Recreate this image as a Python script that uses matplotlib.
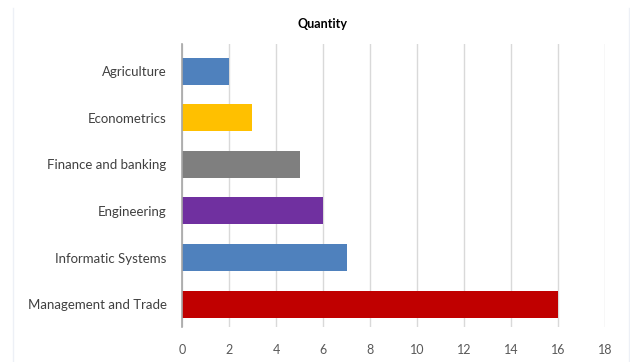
import matplotlib
matplotlib.use("Agg")
import matplotlib.pyplot as plt
from matplotlib.lines import Line2D

# data, listed top to bottom as in the chart
categories = ["Agriculture", "Econometrics", "Finance and banking",
              "Engineering", "Informatic Systems", "Management and Trade"]
quantity = [2, 3, 5, 6, 7, 16]
bar_colors = ["#4F81BD", "#FFC000", "#7F7F7F", "#7030A0", "#4F81BD", "#C00000"]
x_ticks = [0, 2, 4, 6, 8, 10, 12, 14, 16, 18]

plt.rcParams['font.family'] = ['Lato', 'DejaVu Sans']

fig = plt.figure(figsize=(6.3, 3.62), dpi=100)
ax = fig.add_axes([182/630, 1 - 327/362, (605 - 182)/630, (327 - 44)/362])

# faint chart-area edges like the spreadsheet export
fig.lines.append(Line2D([13/630, 13/630], [0, 1 - 8/362], transform=fig.transFigure,
                        color="#EDF0F6", linewidth=1))
fig.lines.append(Line2D([629/630, 629/630], [0, 1 - 8/362], transform=fig.transFigure,
                        color="#EDF0F6", linewidth=1))

pos = list(range(len(categories)))[::-1]
ax.barh(pos, quantity, height=0.58, color=bar_colors, zorder=3)

ax.set_xlim(0, 18)
ax.set_ylim(-0.49, len(categories) - 0.42)
ax.set_xticks(x_ticks)
ax.set_yticks(pos)
ax.set_yticklabels(categories)
ax.tick_params(axis="both", length=0, labelsize=9.5, colors="#404040")
ax.tick_params(axis="x", pad=12, labelcolor="#595959", labelsize=9)
ax.tick_params(axis="y", pad=11)
ax.grid(axis="x", color="#D9D9D9", linewidth=1, zorder=0)

for side in ["top", "right", "bottom"]:
    ax.spines[side].set_visible(False)
ax.spines["left"].set_color("#A6A6A6")
ax.spines["left"].set_linewidth(1.2)
ax.spines["left"].set_zorder(4)

fig.text(322/630, 1 - 24/362, "Quantity", ha="center", va="center",
         fontsize=9, fontweight="bold", color="black")

fig.savefig("out.png", dpi=100)
